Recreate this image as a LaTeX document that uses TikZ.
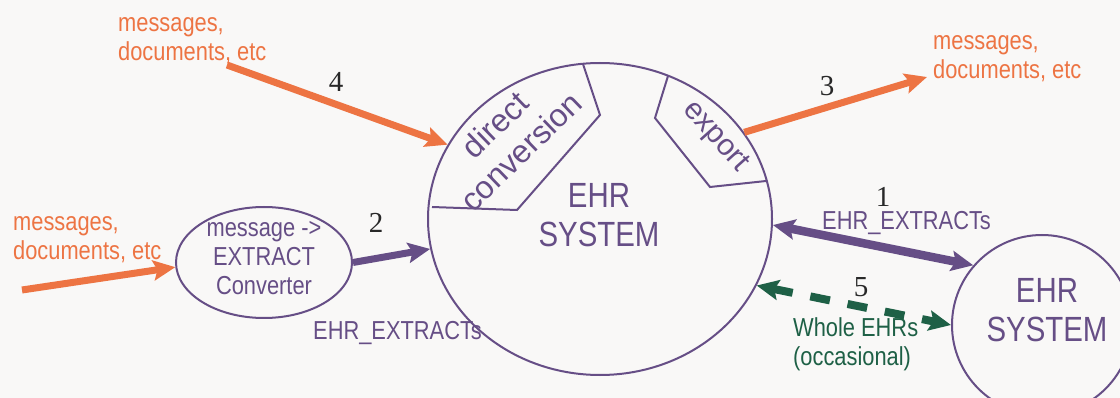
\documentclass[tikz,border=0pt]{standalone}
\usepackage{fontspec}
\setmainfont{Liberation Sans}
\newfontfamily\narfont{Liberation Sans}[FakeStretch=0.84]
\newfontfamily\serfont{Liberation Serif}
\usetikzlibrary{shapes.geometric,arrows.meta}
\definecolor{bgc}{RGB}{249,248,247}
\definecolor{orng}{RGB}{237,116,67}
\definecolor{purp}{RGB}{102,78,134}
\definecolor{grn}{RGB}{30,96,70}
\definecolor{numc}{RGB}{40,40,40}
\begin{document}
\begin{tikzpicture}[x=1pt,y=-1pt,
  outline/.style={draw=purp,line width=2pt},
  smalltxt/.style={font=\narfont\fontsize{26}{29}\selectfont,inner sep=0pt},
  bigtxt/.style={font=\narfont\fontsize{35}{39}\selectfont,inner sep=0pt,text=purp,align=center},
  rottxt/.style={font=\fontsize{32}{37}\selectfont,inner sep=0pt,text=purp,align=center},
  numtxt/.style={font=\serfont\fontsize{29}{30}\selectfont,inner sep=0pt,text=numc},
  tipst/.tip={Stealth[length=22pt,width=20pt,inset=4pt]},
  orarrow/.style={draw=orng,line width=7pt,-tipst},
  puarrow/.style={draw=purp,line width=7pt,-tipst},
  dblarrow/.style={draw=purp,line width=8.5pt,tipst-tipst},
  grarrow/.style={draw=grn,line width=8pt,dash pattern=on 20pt off 18pt,tipst-tipst}]
\fill[bgc] (0,0) rectangle (1120,398);
\useasboundingbox (0,0) rectangle (1120,398);
% main shapes
\node[ellipse,outline,minimum width=344pt,minimum height=312pt,inner sep=0pt] (sys) at (600,219) {};
\node[circle,outline,minimum size=180pt,inner sep=0pt] (ext) at (1042,325) {};
\node[ellipse,outline,minimum width=176pt,minimum height=111pt,inner sep=0pt] (conv) at (264,262.5) {};
% inner sections of main system
\draw[outline] (432,207) -- (517,210) -- (600,115) -- (583,64);
\draw[outline] (668,76) -- (655,118) -- (710,187) -- (766,181);
% texts
\node[bigtxt] (systxt) at (599,215) {EHR\\SYSTEM};
\node[bigtxt] (exttxt) at (1047,310) {EHR\\SYSTEM};
\node[smalltxt,text=purp,align=center] (convtxt) at (264,258.5) {message ->\\EXTRACT\\Converter};
\node[rottxt,rotate=44] (dctxt) at (508,138) {direct\\conversion};
\node[rottxt,rotate=-48,font=\fontsize{30}{34}\selectfont] (exptxt) at (715,137) {export};
\node[smalltxt,text=orng,align=left,anchor=base west] (msgTL) at (118,61) {messages,\\documents, etc};
\node[smalltxt,text=orng,align=left,anchor=base west] (msgTR) at (933,79) {messages,\\documents, etc};
\node[smalltxt,text=orng,align=left,anchor=base west] (msgL) at (13,260) {messages,\\documents, etc};
\node[smalltxt,text=purp,anchor=base west] (extrL) at (313,340) {EHR\_EXTRACTs};
\node[smalltxt,text=purp,anchor=base west] (extrR) at (822,230) {EHR\_EXTRACTs};
\node[smalltxt,text=grn,align=left,anchor=base west] (whole) at (793,365) {Whole EHRs\\(occasional)};
\node[numtxt] (n1) at (883,197) {1};
\node[numtxt] (n2) at (376,223) {2};
\node[numtxt] (n3) at (827,86) {3};
\node[numtxt] (n4) at (336,82) {4};
\node[numtxt] (n5) at (861,287) {5};
% free ends
\coordinate (s4) at (227,65);
\coordinate (t3) at (927,77);
\coordinate (sL) at (22,290);
% connectors
\draw[orarrow] (s4) -- (sys.154.5);
\draw[orarrow] (sys.31.4) -- (t3);
\draw[orarrow] (sL) -- (conv.183.6);
\draw[puarrow] (conv.0) -- (sys.190);
\draw[dblarrow] (sys.-2.3) -- (ext.139.6);
\draw[grarrow] (sys.-23.5) -- (ext.180);
\end{tikzpicture}
\end{document}
